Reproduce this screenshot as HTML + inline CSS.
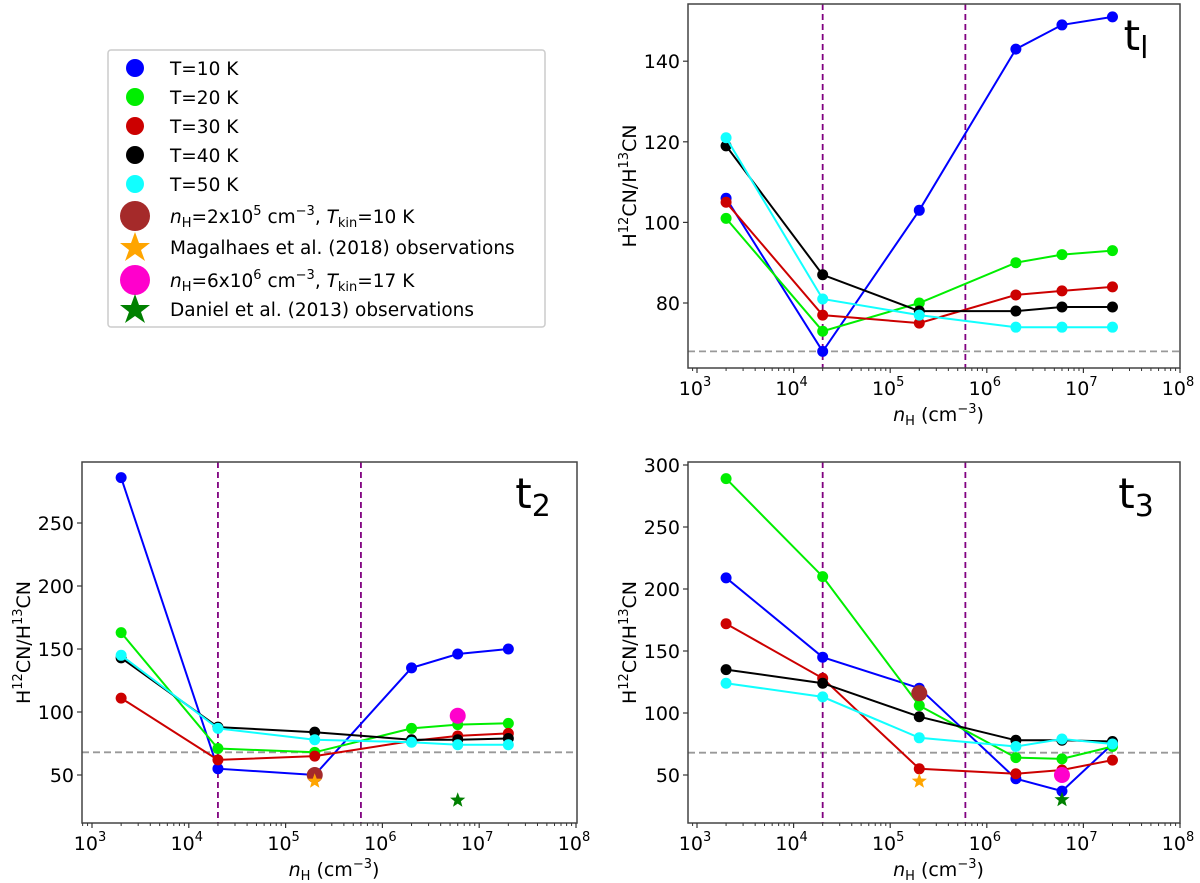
<!DOCTYPE html>
<html><head><meta charset="utf-8"><style>
html,body{margin:0;padding:0;background:#fff;overflow:hidden;}
svg{display:block;font-family:"DejaVu Sans","Liberation Sans",sans-serif;}
</style></head><body>
<svg id="root" width="1200" height="883" viewBox="0 0 1200 883">
<g font-size="18.5">
<rect x="108" y="50" width="437" height="277" rx="3" fill="#fff" stroke="#ccc" stroke-width="1.5"/>
<circle cx="135" cy="68" r="9" fill="#0000ff"/><text x="170" y="75">T=10 K</text>
<circle cx="135" cy="97" r="9" fill="#00ee00"/><text x="170" y="104">T=20 K</text>
<circle cx="135" cy="126" r="9" fill="#cc0000"/><text x="170" y="133">T=30 K</text>
<circle cx="135" cy="155" r="9" fill="#000"/><text x="170" y="162">T=40 K</text>
<circle cx="135" cy="184" r="9" fill="#11ffff"/><text x="170" y="191">T=50 K</text>
<circle cx="135" cy="216" r="15" fill="#a52a2a"/><text x="170" y="223"><tspan font-style="italic">n</tspan><tspan font-size="13" dy="4">H</tspan><tspan dy="-4">=2x10</tspan><tspan font-size="13" dy="-8">5</tspan><tspan dy="8"> cm</tspan><tspan font-size="13" dy="-8">−3</tspan><tspan dy="8">, </tspan><tspan font-style="italic">T</tspan><tspan font-size="13" dy="4">kin</tspan><tspan dy="-4">=10 K</tspan></text>
<polygon points="135,232 139,243 150,243 141,250 145,261 135,254 125,261 129,250 120,243 131,243" fill="orange"/><text x="170" y="254">Magalhaes et al. (2018) observations</text>
<circle cx="135" cy="280" r="15" fill="#ff00cc"/><text x="170" y="287"><tspan font-style="italic">n</tspan><tspan font-size="13" dy="4">H</tspan><tspan dy="-4">=6x10</tspan><tspan font-size="13" dy="-8">6</tspan><tspan dy="8"> cm</tspan><tspan font-size="13" dy="-8">−3</tspan><tspan dy="8">, </tspan><tspan font-style="italic">T</tspan><tspan font-size="13" dy="4">kin</tspan><tspan dy="-4">=17 K</tspan></text>
<polygon points="135,294 139,305 150,305 141,312 145,323 135,316 125,323 129,312 120,305 131,305" fill="green"/><text x="170" y="316">Daniel et al. (2013) observations</text>
</g>
</svg>
<script>
const xVals=[2e3,2e4,2e5,2e6,6e6,2e7];
const seriesNames=['T10','T20','T30','T40','T50'];
const seriesColors=['#0000ff','#00ee00','#cc0000','#000000','#11ffff'];
const t1Blue=[106,68,103,143,149,151];
const t1Green=[101,73,80,90,92,93];
const t1Red=[105,77,75,82,83,84];
const t1Black=[119,87,78,78,79,79];
const t1Cyan=[121,81,77,74,74,74];
const t2Blue=[286,55,50,135,146,150];
const t2Green=[163,71,68,87,90,91];
const t2Red=[111,62,65,77,81,83];
const t2Black=[143,88,84,78,78,79];
const t2Cyan=[145,87,78,76,74,74];
const t3Blue=[209,145,120,47,37,75];
const t3Green=[289,210,106,64,63,73];
const t3Red=[172,128,55,51,54,62];
const t3Black=[135,124,97,78,78,77];
const t3Cyan=[124,113,80,73,79,75];
const t1Ticks=[80,100,120,140];
const t2Ticks=[50,100,150,200,250];
const t3Ticks=[50,100,150,200,250,300];
const xTickExps=[3,4,5,6,7,8];
const refLine=68;
const vLines=[2e4,6e5];
const t2Obs=[[2e5,50,'brown'],[2e5,45,'ostar'],[6e6,97,'magenta'],[6e6,30,'gstar']];
const t3Obs=[[2e5,116,'brown'],[2e5,45,'ostar'],[6e6,50,'magenta'],[6e6,30,'gstar']];

const NS='http://www.w3.org/2000/svg';
const root=document.getElementById('root');
function mk(tag,attrs,parent){const e=document.createElementNS(NS,tag);for(const k in attrs)e.setAttribute(k,attrs[k]);parent.appendChild(e);return e;}
function star(cx,cy,R,color,parent){let p=[];for(let i=0;i<10;i++){const r=i%2?R*0.42:R;const a=-Math.PI/2+i*Math.PI/5;p.push((cx+r*Math.cos(a)).toFixed(1)+','+(cy+r*Math.sin(a)).toFixed(1));}return mk('polygon',{points:p.join(' '),fill:color},parent);}

function panel(cfg){
  const g=mk('g',{},root);
  
  
  const X=v=>cfg.x3+(Math.log10(v)-3)*cfg.dec;
  const Y=v=>cfg.yRef-(v-cfg.vRef)*cfg.ppu;
  const L=cfg.left,R=cfg.right,T=cfg.top,B=cfg.bottom;
  const cid='clip'+cfg.name;
  const cp=mk('clipPath',{id:cid},g);mk('rect',{x:L,y:T,width:R-L,height:B-T},cp);
  const inner=mk('g',{'clip-path':'url(#'+cid+')'},g);
  const rl=mk('line',{x1:L,x2:R,y1:Y(refLine),y2:Y(refLine),stroke:'#999','stroke-width':1.8,'stroke-dasharray':'7,4'},inner);
  
  
  vLines.forEach(v=>{const l=mk('line',{x1:X(v),x2:X(v),y1:T,y2:B,stroke:'#800080','stroke-width':1.8,'stroke-dasharray':'6,4'},inner);
    
    });
  cfg.series.forEach((s,i)=>{
    const sg=mk('g',{},inner);
    
    
    mk('polyline',{points:s.map((v,j)=>X(xVals[j]).toFixed(1)+','+Y(v).toFixed(1)).join(' '),fill:'none',stroke:seriesColors[i],'stroke-width':2},sg);
    s.forEach((v,j)=>{const c=mk('circle',{cx:X(xVals[j]),cy:Y(v),r:5.5,fill:seriesColors[i]},sg);
      
      });
  });
  (cfg.obs||[]).forEach(o=>{
    let e;
    if(o[2]==='brown')e=mk('circle',{cx:X(o[0]),cy:Y(o[1]),r:8,fill:'#a52a2a'},inner);
    else if(o[2]==='magenta')e=mk('circle',{cx:X(o[0]),cy:Y(o[1]),r:8,fill:'#ff00cc'},inner);
    else if(o[2]==='ostar')e=star(X(o[0]),Y(o[1]),8,'orange',inner);
    else e=star(X(o[0]),Y(o[1]),8,'green',inner);
    
    
  });
  mk('rect',{x:L,y:T,width:R-L,height:B-T,fill:'none',stroke:'#444','stroke-width':1.5},g);
  cfg.yTicks.forEach(v=>{const y=Y(v);mk('line',{x1:L-5,x2:L,y1:y,y2:y,stroke:'#333','stroke-width':1.2},g);
    const t=mk('text',{x:L-8,y:y+7,'font-size':19,'text-anchor':'end'},g);t.textContent=v;
    
    });
  xTickExps.forEach(e=>{const x=X(Math.pow(10,e));mk('line',{x1:x,x2:x,y1:B,y2:B+5,stroke:'#333','stroke-width':1.2},g);
    const t=mk('text',{x:x-2,y:B+27,'font-size':19,'text-anchor':'middle'},g);
    
    
    const a=mk('tspan',{},t);a.textContent='10';const b=mk('tspan',{'font-size':13,dy:-9},t);b.textContent=e;
    if(e<8)for(let m=2;m<10;m++){const xm=X(m*Math.pow(10,e));mk('line',{x1:xm,x2:xm,y1:B,y2:B+3,stroke:'#333','stroke-width':1},g);}
  });
  for(let m=8;m<10;m++){const xm=X(m*100);if(xm>L)mk('line',{x1:xm,x2:xm,y1:B,y2:B+3,stroke:'#333','stroke-width':1},g);}
  const xl=mk('text',{x:(X(1e3)+X(1e8))/2,y:B+53,'font-size':19,'text-anchor':'middle'},g);
  
  
  xl.innerHTML='<tspan font-style="italic">n</tspan><tspan font-size="13" dy="4">H</tspan><tspan dy="-4"> (cm</tspan><tspan font-size="13" dy="-8">−3</tspan><tspan dy="8">)</tspan>';
  const yl=mk('text',{x:0,y:0,'font-size':19,'text-anchor':'middle',transform:'translate('+(L-52)+','+((T+B)/2)+') rotate(-90)'},g);
  
  
  yl.innerHTML='H<tspan font-size="13" dy="-8">12</tspan><tspan dy="8">CN/H</tspan><tspan font-size="13" dy="-8">13</tspan><tspan dy="8">CN</tspan>';
  const pt=mk('text',{x:R-44,y:T+46,'font-size':42,'text-anchor':'middle'},g);
  
  
  pt.innerHTML='t<tspan font-size="30" dy="8">'+cfg.sub+'</tspan>';
}
panel({name:'panel-t1',left:688,right:1180,top:4,bottom:368,x3:697,dec:96.6,yRef:303,vRef:80,ppu:4.03,series:[t1Blue,t1Green,t1Red,t1Black,t1Cyan],yTicks:t1Ticks,sub:'l'});
panel({name:'panel-t2',left:82,right:577,top:462,bottom:823,x3:92,dec:96.8,yRef:775,vRef:50,ppu:1.26,series:[t2Blue,t2Green,t2Red,t2Black,t2Cyan],yTicks:t2Ticks,sub:'2',obs:t2Obs});
panel({name:'panel-t3',left:688,right:1180,top:462,bottom:823,x3:697,dec:96.6,yRef:775,vRef:50,ppu:1.24,series:[t3Blue,t3Green,t3Red,t3Black,t3Cyan],yTicks:t3Ticks,sub:'3',obs:t3Obs});
</script>
</body></html>
